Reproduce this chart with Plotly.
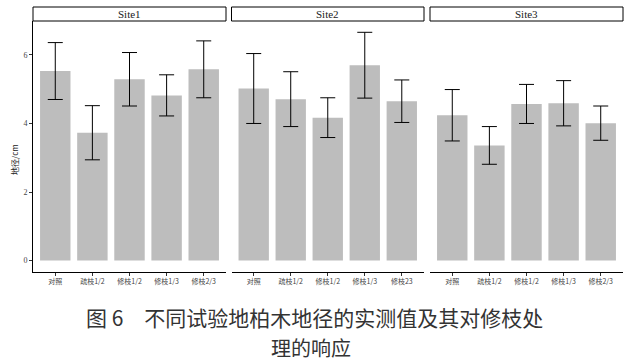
import plotly.graph_objects as go

sites = ["Site1", "Site2", "Site3"]
categories = {
    "Site1": ["对照", "疏枝1/2", "修枝1/2", "修枝1/3", "修枝2/3"],
    "Site2": ["对照", "疏枝1/2", "修枝1/2", "修枝1/3", "修枝23"],
    "Site3": ["对照", "疏枝1/2", "修枝1/2", "修枝1/3", "修枝2/3"],
}
means = {
    "Site1": [5.53, 3.73, 5.29, 4.82, 5.58],
    "Site2": [5.02, 4.71, 4.17, 5.70, 4.65],
    "Site3": [4.24, 3.36, 4.57, 4.59, 4.01],
}
sds = {
    "Site1": [0.83, 0.79, 0.78, 0.60, 0.83],
    "Site2": [1.02, 0.80, 0.58, 0.96, 0.62],
    "Site3": [0.75, 0.55, 0.57, 0.66, 0.50],
}
y_ticks = [0, 2, 4, 6]
y_title = "地径/cm"
caption1 = "图 6　不同试验地柏木地径的实测值及其对修枝处"
caption2 = "理的响应"

W, H = 624, 362
panels_px = [(33, 226), (231.5, 424), (430, 623)]
plot_top, plot_bottom = 21, 272
strip_top = 7

def px_x(v):
    return v / W

def px_y(v):
    return (H - v) / H

fig = go.Figure()
serif = "Liberation Serif, Noto Sans CJK SC"
cjk = "Noto Sans CJK SC, Liberation Serif"

for i, s in enumerate(sites):
    xa = "x" if i == 0 else f"x{i+1}"
    ya = "y" if i == 0 else f"y{i+1}"
    fig.add_trace(go.Bar(
        x=categories[s], y=means[s],
        error_y=dict(type="data", array=sds[s], visible=True,
                     color="#000000", thickness=1, width=7.5),
        marker=dict(color="#bdbdbd", line=dict(width=0)),
        width=0.82, xaxis=xa, yaxis=ya, showlegend=False,
    ))
    x0, x1 = panels_px[i]
    dom = [px_x(x0), px_x(x1)]
    xkey = "xaxis" if i == 0 else f"xaxis{i+1}"
    ykey = "yaxis" if i == 0 else f"yaxis{i+1}"
    fig.layout[xkey] = dict(
        domain=dom, anchor=ya, type="category", range=[-0.6, 4.6],
        showline=True, linecolor="#000000", linewidth=1, mirror=False,
        ticks="outside", ticklen=3, tickcolor="#333333", tickwidth=1,
        tickfont=dict(family=cjk, size=7, color="#444444"),
        showgrid=False, zeroline=False, fixedrange=True,
    )
    fig.layout[ykey] = dict(
        domain=[px_y(plot_bottom), px_y(plot_top)], anchor=xa,
        range=[-0.333, 6.99],
        tickvals=y_ticks, ticktext=[str(t) for t in y_ticks] if i == 0 else None,
        showticklabels=(i == 0),
        ticks="outside" if i == 0 else "", ticklen=3, tickcolor="#333333",
        showline=(i == 0), linecolor="#000000", linewidth=1,
        tickfont=dict(family=serif, size=8, color="#444444"),
        showgrid=False, zeroline=False, fixedrange=True,
    )
    if i > 0:
        fig.layout[ykey]["matches"] = "y"
    # strip
    fig.add_shape(type="rect", xref="paper", yref="paper",
                  x0=px_x(x0), x1=px_x(x1), y0=px_y(plot_top), y1=px_y(strip_top),
                  line=dict(color="#000000", width=1), fillcolor="#ffffff")
    fig.add_annotation(text=s, xref="paper", yref="paper",
                       x=(px_x(x0) + px_x(x1)) / 2, y=(px_y(plot_top) + px_y(strip_top)) / 2,
                       showarrow=False, font=dict(family=serif, size=11, color="#1a1a1a"),
                       xanchor="center", yanchor="middle")

fig.add_annotation(text=y_title, xref="paper", yref="paper",
                   x=px_x(14), y=px_y(160), textangle=-90, showarrow=False,
                   font=dict(family=cjk, size=8, color="#222222"),
                   xanchor="center", yanchor="middle")
fig.add_annotation(text=caption1, xref="paper", yref="paper",
                   x=px_x(314), y=px_y(317), showarrow=False,
                   font=dict(family=cjk, size=21, color="#333333"),
                   xanchor="center", yanchor="middle")
fig.add_annotation(text=caption2, xref="paper", yref="paper",
                   x=px_x(311), y=px_y(347), showarrow=False,
                   font=dict(family=cjk, size=20, color="#333333"),
                   xanchor="center", yanchor="middle")

fig.update_layout(
    width=W, height=H, margin=dict(l=0, r=0, t=0, b=0),
    paper_bgcolor="#ffffff", plot_bgcolor="#ffffff",
    bargap=0.18,
)
fig.write_html("out.html", config={"displayModeBar": False})

# remove default body margin so the figure sits at the window's top-left corner
with open("out.html", "r", encoding="utf-8") as f:
    html = f.read()
html = html.replace("<body>", '<body style="margin:0;padding:0;overflow:hidden">', 1)
with open("out.html", "w", encoding="utf-8") as f:
    f.write(html)
